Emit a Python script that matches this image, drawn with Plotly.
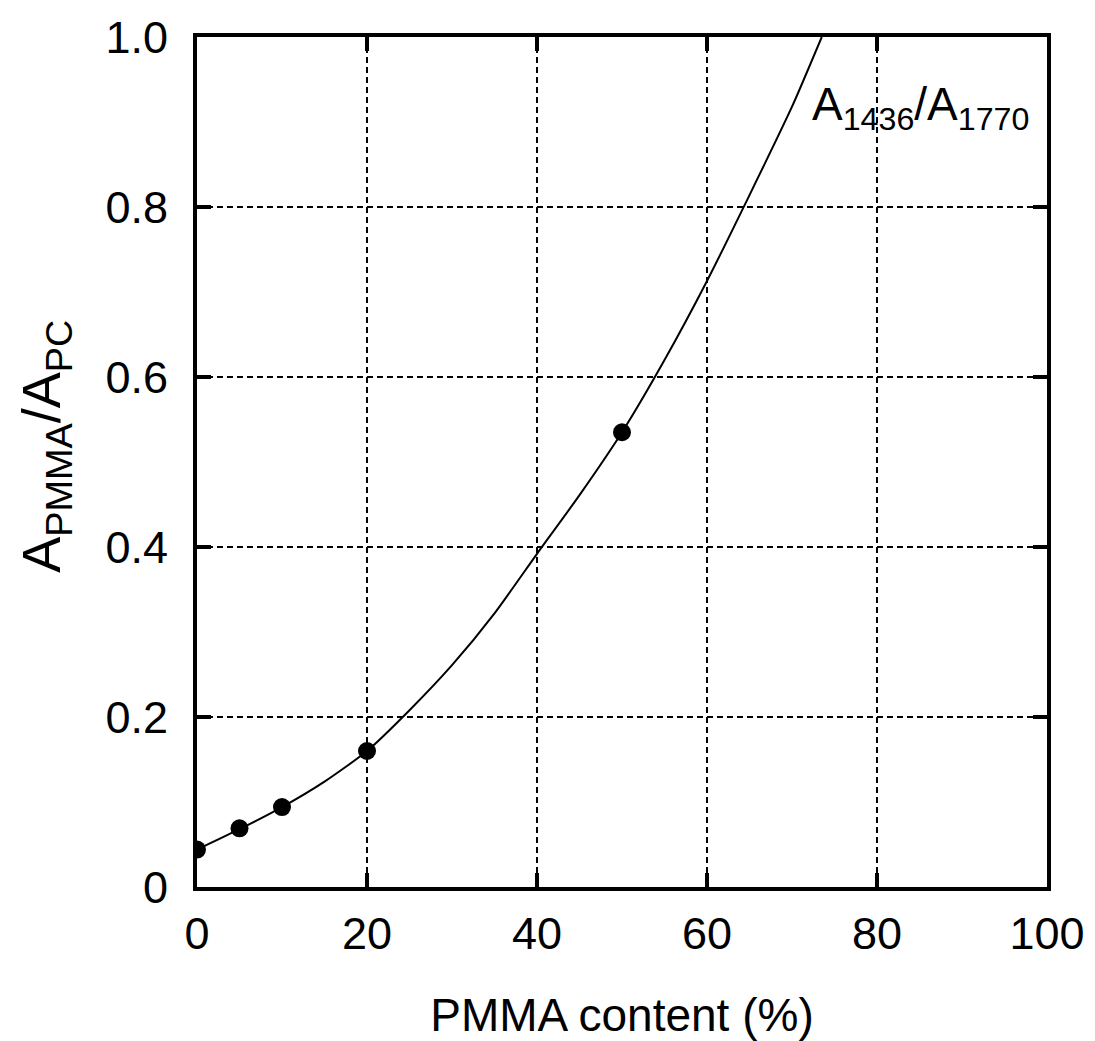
import plotly.graph_objects as go

# measured data points
pmma_content = [0, 5, 10, 20, 50]
ratio = [0.044, 0.069, 0.094, 0.160, 0.535]

# fitted curve
curve_x = [0, 5, 10, 15, 20, 25, 30, 35, 40, 45, 50, 55, 60, 65, 70, 73.5]
curve_y = [0.044, 0.068, 0.094, 0.124, 0.160, 0.208, 0.261, 0.322, 0.392,
           0.461, 0.535, 0.620, 0.713, 0.814, 0.918, 1.0]

x_ticks = [0, 20, 40, 60, 80, 100]
x_ticktext = ["0", "20", "40", "60", "80", "100"]
y_ticks = [0, 0.2, 0.4, 0.6, 0.8, 1.0]
y_ticktext = ["0", "0.2", "0.4", "0.6", "0.8", "1.0"]

FONT = "Liberation Sans, Arial, sans-serif"

fig = go.Figure()
fig.add_trace(go.Scatter(
    x=curve_x, y=curve_y, mode="lines",
    line=dict(color="black", width=2, shape="spline", smoothing=0.6),
    showlegend=False, hoverinfo="skip"))
fig.add_trace(go.Scatter(
    x=pmma_content, y=ratio, mode="markers",
    marker=dict(color="black", size=18, symbol="circle"),
    showlegend=False))

fig.add_annotation(
    x=72.1, y=0.917, xref="x", yref="y", xanchor="left", yanchor="middle",
    text="A<sub>1436</sub>/A<sub>1770</sub>", showarrow=False,
    font=dict(family=FONT, size=46, color="black"))

# y axis title as rotated annotation
fig.add_annotation(
    x=0, y=0.518, xref="paper", yref="paper", xshift=-152,
    xanchor="center", yanchor="middle", textangle=-90,
    text="A<sub>PMMA</sub>/A<sub>PC</sub>", showarrow=False,
    font=dict(family=FONT, size=54, color="black"))

axis_common = dict(
    showline=True, linecolor="black", linewidth=4, mirror="allticks",
    ticks="inside", ticklen=14, tickwidth=4, tickcolor="black",
    showgrid=True, gridcolor="black", gridwidth=1.5, griddash="6px,4px",
    zeroline=False, automargin=False,
    tickfont=dict(family=FONT, size=45, color="black"),
)

fig.update_xaxes(
    range=[0, 100], tickvals=x_ticks, ticktext=x_ticktext,
    title=dict(text="PMMA content (%)", standoff=46,
               font=dict(family=FONT, size=46, color="black")),
    ticklabelstandoff=4,
    **axis_common)
fig.update_yaxes(
    range=[0, 1.0], tickvals=y_ticks, ticktext=y_ticktext,
    ticklabelstandoff=16,
    **axis_common)

fig.update_layout(
    width=1095, height=1041,
    margin=dict(l=197, r=48, t=37, b=154, pad=0),
    paper_bgcolor="white", plot_bgcolor="white",
    font=dict(family=FONT, color="black"),
)

fig.write_html("out.html")
